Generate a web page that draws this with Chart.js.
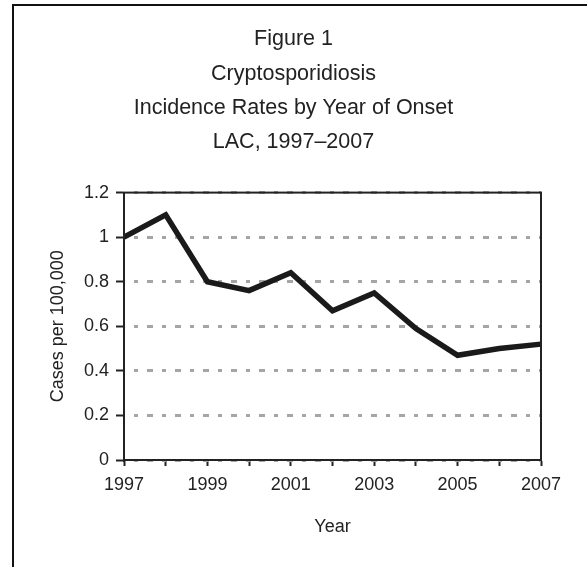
<!DOCTYPE html>
<html>
<head>
<meta charset="utf-8">
<script src="https://cdn.jsdelivr.net/npm/chart.js@4"></script>
<style>
  html, body { margin: 0; padding: 0; background: #fff; overflow: hidden; }
  #wrap { position: relative; width: 587px; height: 567px; }
  #frame {
    position: absolute; left: 12px; top: 4px; width: 600px; height: 600px;
    border-left: 2px solid #111; border-top: 2px solid #111;
    pointer-events: none;
  }
  canvas { position: absolute; left: 0; top: 0; }
</style>
</head>
<body>
<div id="wrap">
  <canvas id="myChart" width="587" height="567"></canvas>
  <div id="frame"></div>
</div>
<script>
// incidence per 100,000 by year of onset
const years = ["1997", "1998", "1999", "2000", "2001", "2002", "2003", "2004", "2005", "2006", "2007"];
const rates = [1.0, 1.1, 0.8, 0.76, 0.84, 0.67, 0.75, 0.59, 0.47, 0.5, 0.52];
const yTickLabels = ["0", "0.2", "0.4", "0.6", "0.8", "1", "1.2"];
const titleLines = ["Figure 1", "Cryptosporidiosis", "Incidence Rates by Year of Onset", "LAC, 1997\u20132007"];

const ink = "#222";
const font = "Arial, 'Liberation Sans', sans-serif";

// box around the plot area
const plotBox = {
  id: "plotBox",
  afterDatasetsDraw(chart) {
    const { ctx, chartArea: a } = chart;
    ctx.save();
    ctx.strokeStyle = ink;
    ctx.lineWidth = 2;
    ctx.strokeRect(a.left, a.top, a.right - a.left, a.bottom - a.top);
    ctx.restore();
  },
};

const ctx = document.getElementById("myChart");

new Chart(ctx, {
  type: "line",
  data: {
    labels: years,
    datasets: [
      {
        data: rates,
        borderColor: "#1a1a1a",
        borderWidth: 5.5,
        borderJoinStyle: "miter",
        pointRadius: 0,
        tension: 0,
      },
    ],
  },
  options: {
    responsive: false,
    animation: false,
    layout: {
      padding: 0,
    },
    plugins: {
      legend: { display: false },
      tooltip: { enabled: false },
      title: {
        display: true,
        text: titleLines,
        color: ink,
        font: { family: font, size: 21.5, weight: "normal", lineHeight: 1.6 },
        padding: { top: 22, bottom: 33 },
      },
    },
    scales: {
      x: {
        offset: false,
        grid: {
          drawOnChartArea: false,
          tickLength: 6,
          tickColor: ink,
          tickWidth: 2,
        },
        border: { color: ink, width: 2 },
        ticks: {
          color: ink,
          font: { family: font, size: 18 },
          autoSkip: false,
          maxRotation: 0,
          padding: 8,
          callback: function (value, index) {
            return index % 2 === 0 ? years[index] : "";
          },
        },
        title: {
          display: true,
          text: "Year",
          color: ink,
          font: { family: font, size: 18 },
          padding: { top: 0, bottom: 29 },
        },
        afterFit: function (scale) {
          scale.height = 107;
        },
      },
      y: {
        min: 0,
        max: 1.2,
        grid: {
          color: "#a5a5a5",
          lineWidth: 3,
          tickLength: 8,
          tickColor: ink,
          tickWidth: 2,
          tickBorderDash: [],
        },
        border: { color: ink, width: 2, dash: [6, 9, 4, 9], dashOffset: 6 },
        ticks: {
          stepSize: 0.2,
          color: ink,
          font: { family: font, size: 18 },
          padding: 7,
          callback: function (value, index) {
            return yTickLabels[index];
          },
        },
        title: {
          display: true,
          text: "Cases per 100,000",
          color: ink,
          font: { family: font, size: 18 },
          padding: { top: 47, bottom: 0 },
        },
        afterFit: function (scale) {
          scale.width = 124;
        },
      },
      // empty strip on the right so the title stays centred on the page
      yRight: {
        position: "right",
        display: true,
        grid: { display: false },
        border: { display: false },
        ticks: { display: false },
        afterFit: function (scale) {
          scale.width = 46;
        },
      },
    },
  },
  plugins: [plotBox],
});
</script>
</body>
</html>
